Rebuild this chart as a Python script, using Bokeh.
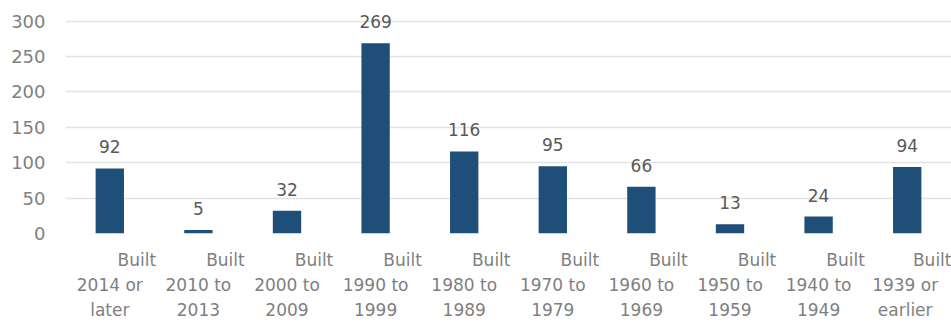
from bokeh.plotting import figure
from bokeh.models import ColumnDataSource, FixedTicker, Range1d, FactorRange
from bokeh.core.properties import value
from bokeh.embed import file_html
from bokeh.resources import INLINE

categories = [
    "Built\n2014 or\nlater", "Built\n2010 to\n2013", "Built\n2000 to\n2009",
    "Built\n1990 to\n1999", "Built\n1980 to\n1989", "Built\n1970 to\n1979",
    "Built\n1960 to\n1969", "Built\n1950 to\n1959", "Built\n1940 to\n1949",
    "Built\n1939 or\nearlier",
]
counts = [92, 5, 32, 269, 116, 95, 66, 13, 24, 94]
y_ticks = [0, 50, 100, 150, 200, 250, 300]

# Excel-like wrapped labels: the first word sits right of centre
pad = "\u00a0" * 10
factors = [pad + c for c in categories]

FONT = "DejaVu Sans"
src = ColumnDataSource(dict(cat=factors, v=counts, t=[str(c) for c in counts]))

p = figure(x_range=FactorRange(*factors), y_range=Range1d(0, 318),
           width=951, height=322, output_backend="svg", toolbar_location=None,
           min_border_left=65, min_border_right=0, min_border_top=8,
           min_border_bottom=88)
p.outline_line_color = None
p.background_fill_color = "white"

p.vbar(x="cat", top="v", width=0.32, source=src, fill_color="#1f4e79",
       line_color=None)
p.text(x="cat", y="v", text="t", source=src, text_align="center",
       text_baseline="bottom", y_offset=-15, text_font=value(FONT),
       text_font_size="17px", text_color="#595959")

p.yaxis.ticker = FixedTicker(ticks=y_ticks)
p.yaxis.axis_line_color = None
p.yaxis.major_tick_line_color = None
p.yaxis.minor_tick_line_color = None
p.yaxis.major_label_standoff = 14
p.yaxis.major_label_text_font = FONT
p.yaxis.major_label_text_font_size = "18px"
p.yaxis.major_label_text_color = "#7f7f7f"

p.xaxis.axis_line_color = None
p.xaxis.major_tick_line_color = None
p.xaxis.minor_tick_line_color = None
p.xaxis.major_label_standoff = 10
p.xaxis.major_label_text_font = FONT
p.xaxis.major_label_text_font_size = "17px"
p.xaxis.major_label_text_color = "#7f7f7f"
p.xaxis.major_label_text_line_height = 1.25

p.xgrid.grid_line_color = None
p.ygrid.grid_line_color = "#e3e3e3"
p.ygrid.grid_line_width = 1.5

open("out.html", "w").write(file_html(p, INLINE))
